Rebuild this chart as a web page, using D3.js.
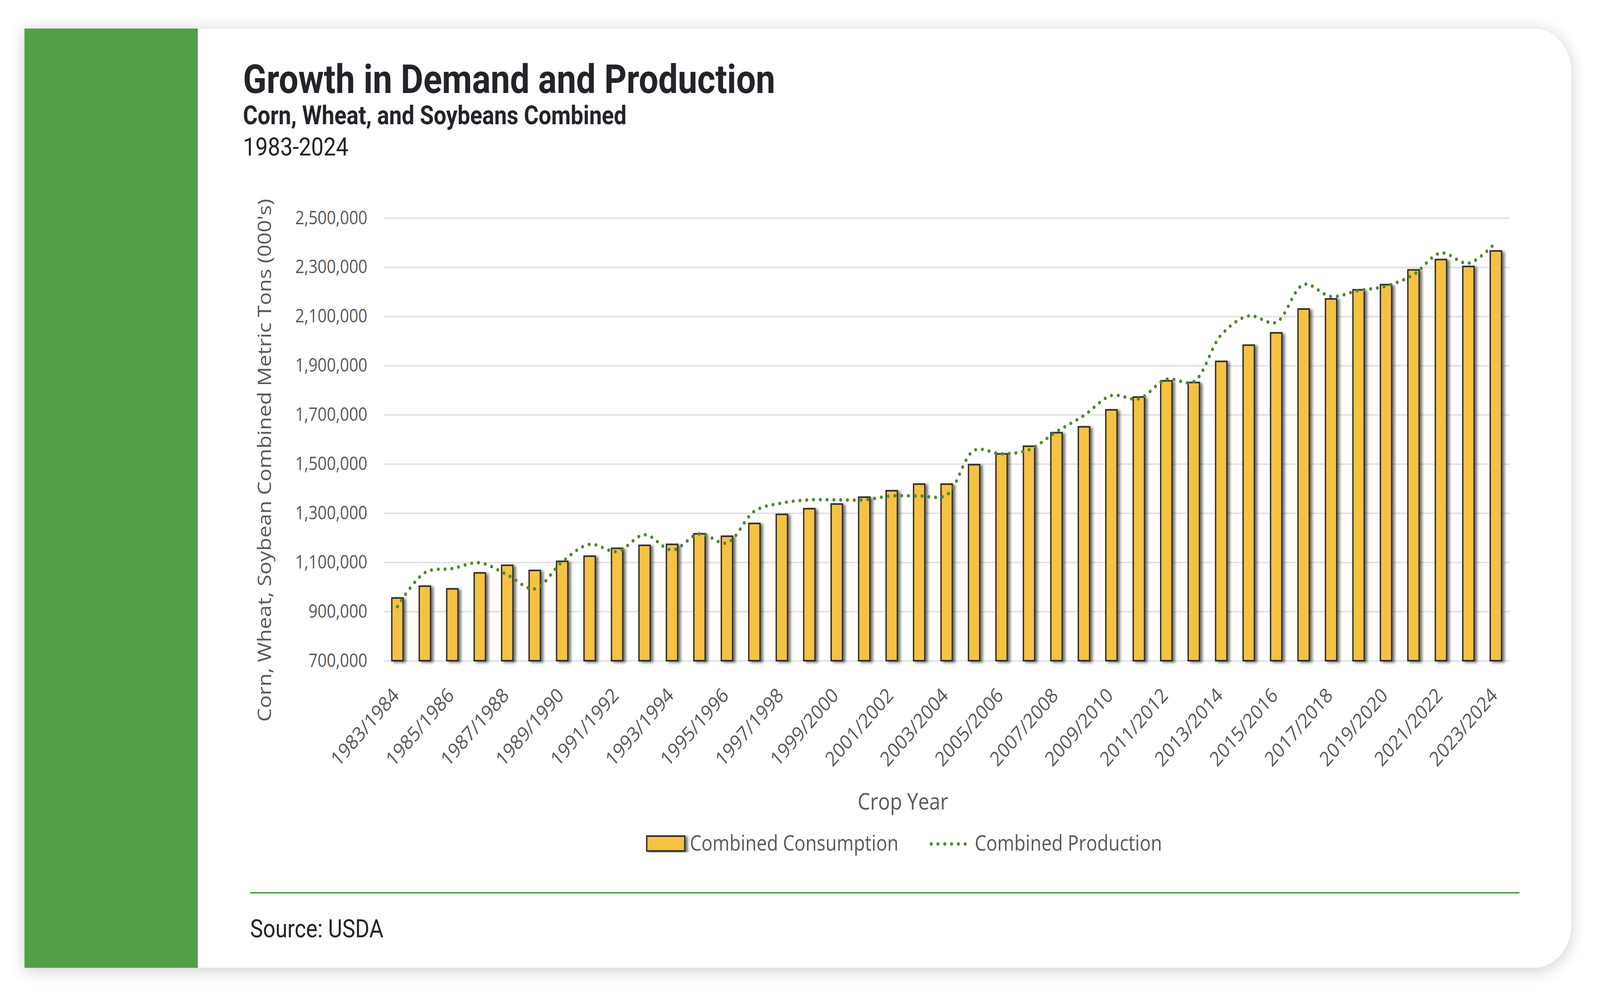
<!DOCTYPE html>
<html>
<head>
<meta charset="utf-8">
<script src="https://cdn.jsdelivr.net/npm/d3@7"></script>
<style>
  html, body { margin: 0; padding: 0; background: #fff; overflow: hidden; }
  svg { display: block; width: 100vw; height: 100vh; }
</style>
</head>
<body>
<svg id="chart"></svg>
<script>
// crop years shown on the x axis
var cropYears = ["1983/1984","1984/1985","1985/1986","1986/1987","1987/1988","1988/1989",
  "1989/1990","1990/1991","1991/1992","1992/1993","1993/1994","1994/1995","1995/1996",
  "1996/1997","1997/1998","1998/1999","1999/2000","2000/2001","2001/2002","2002/2003",
  "2003/2004","2004/2005","2005/2006","2006/2007","2007/2008","2008/2009","2009/2010",
  "2010/2011","2011/2012","2012/2013","2013/2014","2014/2015","2015/2016","2016/2017",
  "2017/2018","2018/2019","2019/2020","2020/2021","2021/2022","2022/2023","2023/2024"];

// combined consumption (000's metric tons)
var consumption = [955000,1003000,992000,1057000,1088000,1067000,1104000,1125000,1157000,
  1169000,1173000,1216000,1206000,1258000,1295000,1318000,1337000,1365000,1391000,1418000,
  1418000,1497000,1541000,1572000,1627000,1651000,1720000,1772000,1838000,1831000,1917000,
  1983000,2033000,2130000,2171000,2208000,2229000,2289000,2331000,2303000,2366000];

// combined production (000's metric tons)
var production = [920000,1058000,1075000,1098000,1049000,992000,1102000,1173000,1144000,
  1212000,1150000,1216000,1179000,1308000,1341000,1354000,1354000,1354000,1370000,1370000,
  1374000,1555000,1541000,1558000,1631000,1697000,1778000,1765000,1844000,1835000,2025000,
  2102000,2076000,2230000,2181000,2205000,2223000,2270000,2358000,2316000,2401000];

var yTicks = d3.range(700000, 2500001, 200000);
var seriesNames = ["Combined Consumption", "Combined Production"];

var W = 4708, H = 2562;
var plot = { left: 1129, right: 4442, top: 558, bottom: 1691 };
var green = "#52a046";
var barFill = "#f5c242";
var lineColor = "#4f8a33";
var axisGrey = "#595959";

// the drawing is laid out in reference pixels and fills the window
var svg = d3.select("#chart")
  .attr("viewBox", "0 0 " + W + " " + H)
  .attr("preserveAspectRatio", "none");

var defs = svg.append("defs");
var cardShadow = defs.append("filter").attr("id", "cardShadow")
  .attr("x", "-5%").attr("y", "-5%").attr("width", "110%").attr("height", "110%");
cardShadow.append("feDropShadow")
  .attr("dx", 0).attr("dy", 6).attr("stdDeviation", 22)
  .attr("flood-color", "#000").attr("flood-opacity", 0.2);

var barShadow = defs.append("filter").attr("id", "barShadow")
  .attr("x", "-50%").attr("y", "-10%").attr("width", "200%").attr("height", "120%");
barShadow.append("feDropShadow")
  .attr("dx", 7).attr("dy", 3).attr("stdDeviation", 3.5)
  .attr("flood-color", "#000").attr("flood-opacity", 0.55);

// card
svg.append("path")
  .attr("d", "M72,73 H4513 A110,110 0 0 1 4623,183 V2367 A110,110 0 0 1 4513,2477 H72 Z")
  .attr("fill", "#fff")
  .attr("filter", "url(#cardShadow)");

svg.append("rect")
  .attr("x", 72).attr("y", 73).attr("width", 510).attr("height", 2404)
  .attr("fill", green);

// headings
var heads = svg.append("g").attr("font-family", "Roboto, sans-serif").attr("fill", "#212529");
heads.append("text").attr("x", 715).attr("y", 238)
  .attr("font-size", 102).attr("font-weight", 700)
  .text("Growth in Demand and Production");
heads.append("text").attr("x", 715).attr("y", 318)
  .attr("font-size", 66).attr("font-weight", 700)
  .text("Corn, Wheat, and Soybeans Combined");
heads.append("text").attr("x", 715).attr("y", 398)
  .attr("font-size", 65)
  .text("1983-2024");

// scales
var xScale = d3.scaleBand()
  .domain(cropYears)
  .range([plot.left, plot.right])
  .paddingInner(0.59)
  .paddingOuter(0.295);

var yScale = d3.scaleLinear()
  .domain([700000, 2500000])
  .range([plot.bottom, plot.top]);

// y axis + gridlines
var yAxis = d3.axisLeft(yScale)
  .tickValues(yTicks)
  .tickSize(-(plot.right - plot.left))
  .tickPadding(48)
  .tickFormat(d3.format(","));

var gy = svg.append("g")
  .attr("transform", "translate(" + plot.left + ",0)")
  .call(yAxis);
gy.select(".domain").remove();
gy.selectAll(".tick line").attr("stroke", "#e2e2e2").attr("stroke-width", 4);
gy.selectAll(".tick text")
  .attr("font-family", "'Open Sans', sans-serif")
  .attr("font-size", 47)
  .attr("fill", axisGrey);

// x axis, every other crop year labelled
var xAxis = d3.axisBottom(xScale)
  .tickValues(cropYears.filter(function(d, i) { return i % 2 == 0; }))
  .tickSize(0);

var gx = svg.append("g")
  .attr("transform", "translate(0," + plot.bottom + ")")
  .call(xAxis);
gx.select(".domain").remove();
gx.selectAll(".tick text")
  .attr("y", null).attr("dy", null)
  .attr("transform", "translate(8,92) rotate(-45)")
  .attr("text-anchor", "end")
  .attr("font-family", "'Open Sans', sans-serif")
  .attr("font-size", 52)
  .attr("fill", axisGrey);

// bars
svg.append("g")
  .selectAll("rect")
  .data(consumption)
  .enter()
  .append("rect")
  .attr("x", function(d, i) { return xScale(cropYears[i]); })
  .attr("y", function(d) { return yScale(d); })
  .attr("width", xScale.bandwidth())
  .attr("height", function(d) { return plot.bottom - yScale(d); })
  .attr("fill", barFill)
  .attr("stroke", "#2e2e2e")
  .attr("stroke-width", 4)
  .attr("filter", "url(#barShadow)");

// production line
var line = d3.line()
  .x(function(d, i) { return xScale(cropYears[i]) + xScale.bandwidth() / 2; })
  .y(function(d) { return yScale(d); })
  .curve(d3.curveCatmullRom.alpha(0.5));

svg.append("path")
  .datum(production)
  .attr("d", line)
  .attr("fill", "none")
  .attr("stroke", lineColor)
  .attr("stroke-width", 9)
  .attr("stroke-linecap", "round")
  .attr("stroke-dasharray", "0 20");

// axis titles
svg.append("text")
  .attr("x", 2657).attr("y", 2072)
  .attr("text-anchor", "middle")
  .attr("font-family", "'Open Sans', sans-serif")
  .attr("font-size", 58)
  .attr("fill", axisGrey)
  .text("Crop Year");

svg.append("text")
  .attr("transform", "translate(798,1178) rotate(-90)")
  .attr("text-anchor", "middle")
  .attr("font-family", "'Open Sans', sans-serif")
  .attr("font-size", 55)
  .attr("fill", axisGrey)
  .text("Corn, Wheat, Soybean Combined Metric Tons (000's)");

// legend
var legend = svg.append("g")
  .attr("font-family", "'Open Sans', sans-serif")
  .attr("font-size", 54)
  .attr("fill", axisGrey);

legend.append("rect")
  .attr("x", 1903).attr("y", 2140).attr("width", 112).attr("height", 38)
  .attr("fill", barFill).attr("stroke", "#2e2e2e").attr("stroke-width", 4)
  .attr("filter", "url(#barShadow)");
legend.append("text").attr("x", 2030).attr("y", 2177).text(seriesNames[0]);

legend.append("line")
  .attr("x1", 2740).attr("x2", 2845).attr("y1", 2160).attr("y2", 2160)
  .attr("stroke", lineColor).attr("stroke-width", 9)
  .attr("stroke-linecap", "round").attr("stroke-dasharray", "0 20");
legend.append("text").attr("x", 2868).attr("y", 2177).text(seriesNames[1]);

// footer
svg.append("rect")
  .attr("x", 736).attr("y", 2283).attr("width", 3735).attr("height", 4)
  .attr("fill", green);

svg.append("text")
  .attr("x", 736).attr("y", 2399)
  .attr("font-family", "Roboto, sans-serif")
  .attr("font-size", 64)
  .attr("fill", "#212529")
  .text("Source: USDA");
</script>
</body>
</html>
